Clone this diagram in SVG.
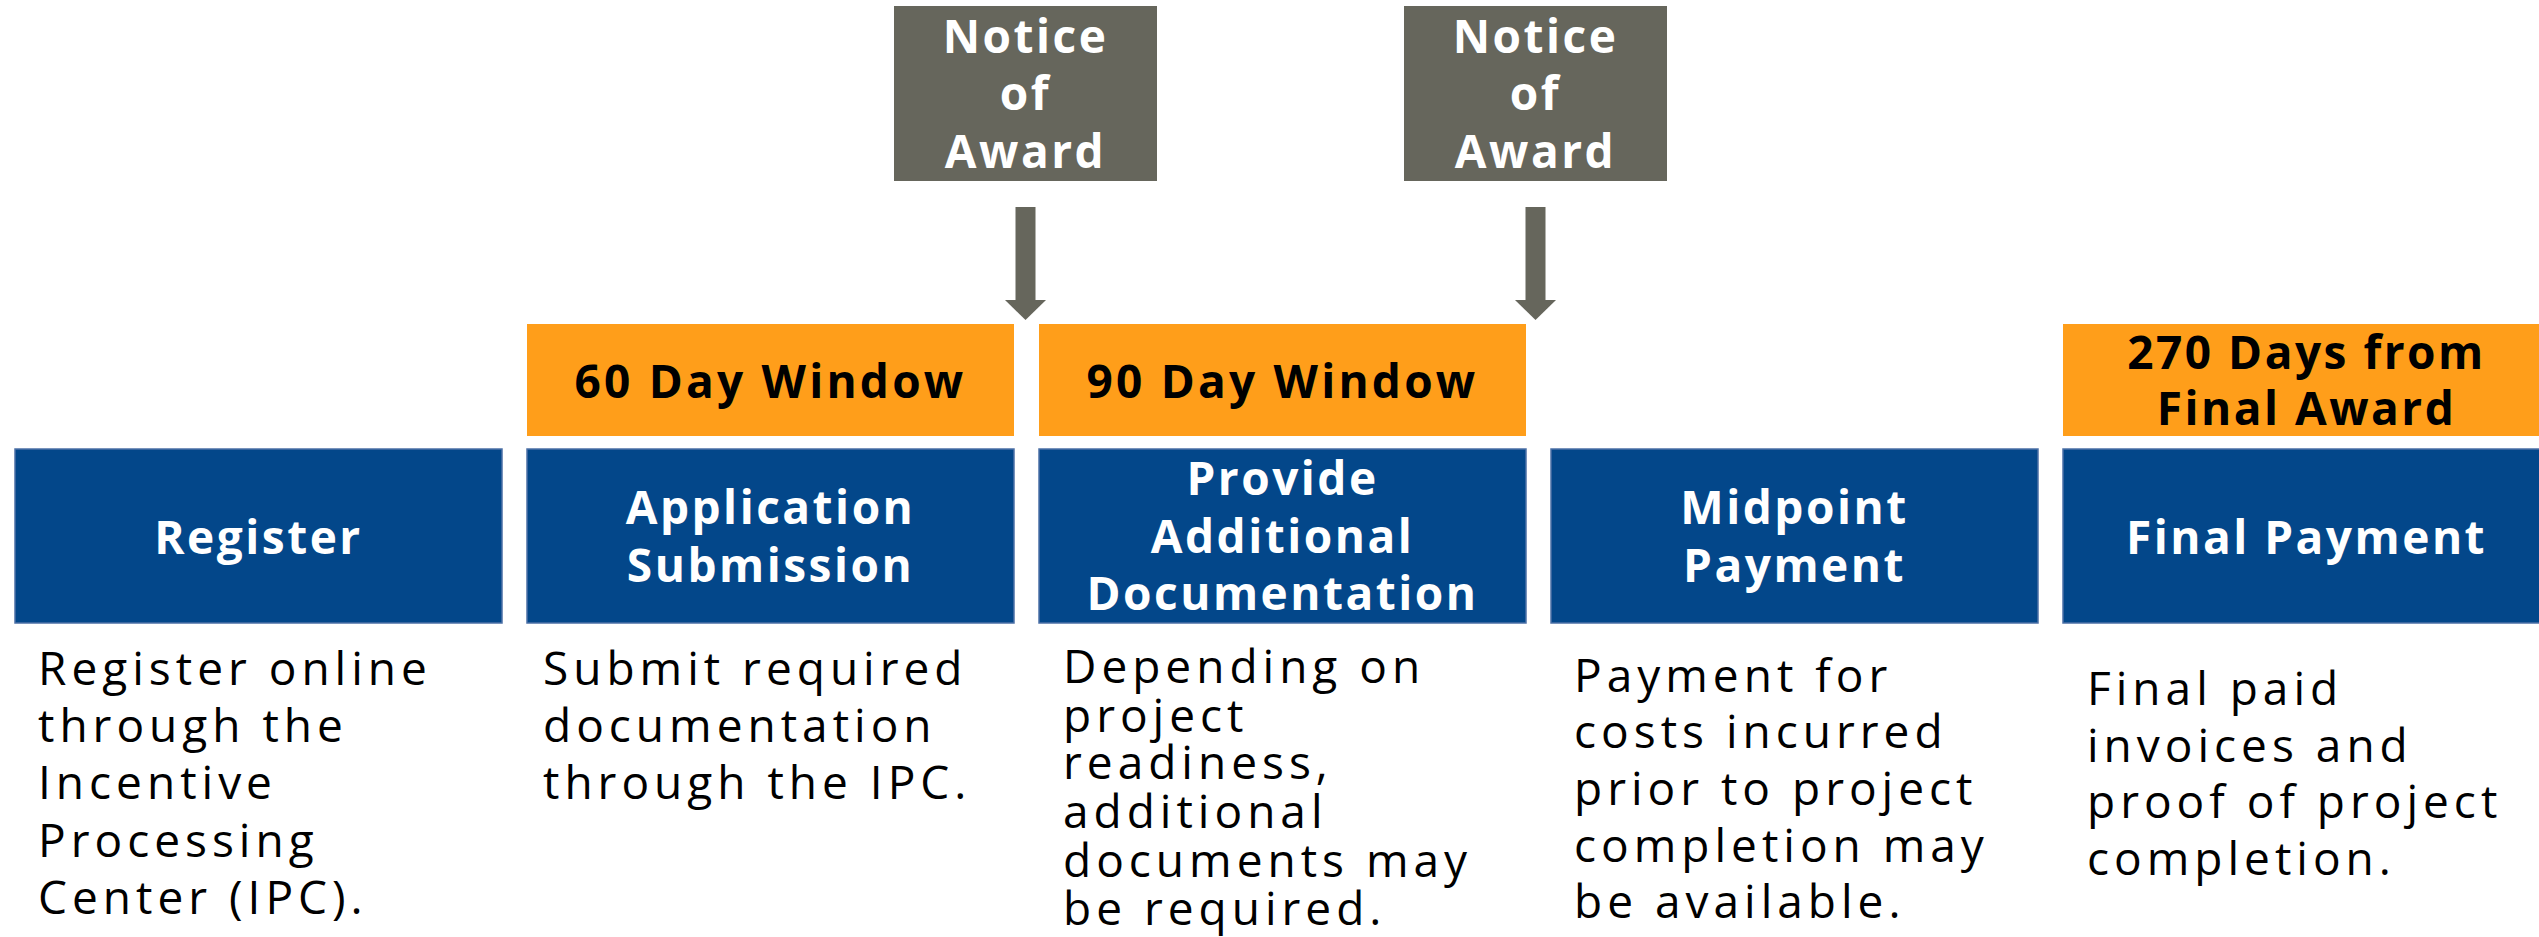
<svg xmlns="http://www.w3.org/2000/svg" width="2539" height="937" viewBox="0 0 2539 937">
<defs>
<style>
.blue{fill:#03478A;stroke:#4C70A6;stroke-width:1.5}
.orange{fill:#FF9E1A}
.gray{fill:#66665C}
.hd{font-family:"Open Sans","Liberation Sans",sans-serif;font-weight:700;font-size:46px;letter-spacing:2.5px;text-anchor:middle}
.win{letter-spacing:3.2px}
.wt{fill:#FFFFFF}
.bk{fill:#000000}
.body{font-family:"Open Sans","Liberation Sans",sans-serif;font-weight:400;font-size:46px;letter-spacing:5px;fill:#000000}
</style>
<marker id="ah" markerUnits="userSpaceOnUse" viewBox="0 0 20 41" refX="0" refY="20.5" markerWidth="20" markerHeight="41" orient="auto">
<path d="M0,0 L20,20.5 L0,41 Z" fill="#66665C"/>
</marker>
</defs>
<rect width="2539" height="937" fill="#FFFFFF"/>

<g id="notice1">
<rect class="gray" x="894" y="6" width="263" height="175"/>
<text class="hd wt" x="1025.5" y="53">Notice</text>
<text class="hd wt" x="1025.5" y="110">of</text>
<text class="hd wt" x="1025.5" y="168">Award</text>
</g>
<g id="notice2">
<rect class="gray" x="1404" y="6" width="263" height="175"/>
<text class="hd wt" x="1535.5" y="53">Notice</text>
<text class="hd wt" x="1535.5" y="110">of</text>
<text class="hd wt" x="1535.5" y="168">Award</text>
</g>

<g id="connectors">
<line x1="1025.5" y1="207" x2="1025.5" y2="300" stroke="#66665C" stroke-width="20" marker-end="url(#ah)"/>
<line x1="1535.5" y1="207" x2="1535.5" y2="300" stroke="#66665C" stroke-width="20" marker-end="url(#ah)"/>
</g>

<g id="window60">
<rect class="orange" x="527" y="324" width="487" height="112"/>
<text class="hd bk win" x="770.5" y="398">60 Day Window</text>
</g>
<g id="window90">
<rect class="orange" x="1039" y="324" width="487" height="112"/>
<text class="hd bk win" x="1282.5" y="398">90 Day Window</text>
</g>
<g id="window270">
<rect class="orange" x="2063" y="324" width="487" height="112"/>
<text class="hd bk" x="2306.5" y="369">270 Days from</text>
<text class="hd bk" x="2306.5" y="425">Final Award</text>
</g>

<g id="register">
<rect class="blue" x="15" y="449" width="487" height="174"/>
<text class="hd wt" x="258.5" y="554">Register</text>
<text class="body" x="38" y="685">Register online</text>
<text class="body" x="38" y="742">through the</text>
<text class="body" x="38" y="799">Incentive</text>
<text class="body" x="38" y="857">Processing</text>
<text class="body" x="38" y="914">Center (IPC).</text>
</g>
<g id="application">
<rect class="blue" x="527" y="449" width="487" height="174"/>
<text class="hd wt" x="770.5" y="524">Application</text>
<text class="hd wt" x="770.5" y="582">Submission</text>
<text class="body" x="543" y="685">Submit required</text>
<text class="body" x="543" y="742">documentation</text>
<text class="body" x="543" y="799">through the IPC.</text>
</g>
<g id="provide">
<rect class="blue" x="1039" y="449" width="487" height="174"/>
<text class="hd wt" x="1282.5" y="495">Provide</text>
<text class="hd wt" x="1282.5" y="553">Additional</text>
<text class="hd wt" x="1282.5" y="610">Documentation</text>
<text class="body" x="1063" y="683">Depending on</text>
<text class="body" x="1063" y="732">project</text>
<text class="body" x="1063" y="779">readiness,</text>
<text class="body" x="1063" y="828">additional</text>
<text class="body" x="1063" y="877">documents may</text>
<text class="body" x="1063" y="925">be required.</text>
</g>
<g id="midpoint">
<rect class="blue" x="1551" y="449" width="487" height="174"/>
<text class="hd wt" x="1794.5" y="524">Midpoint</text>
<text class="hd wt" x="1794.5" y="582">Payment</text>
<text class="body" x="1574" y="692">Payment for</text>
<text class="body" x="1574" y="748">costs incurred</text>
<text class="body" x="1574" y="805">prior to project</text>
<text class="body" x="1574" y="862">completion may</text>
<text class="body" x="1574" y="918">be available.</text>
</g>
<g id="final">
<rect class="blue" x="2063" y="449" width="487" height="174"/>
<text class="hd wt" x="2306.5" y="554">Final Payment</text>
<text class="body" x="2087" y="705">Final paid</text>
<text class="body" x="2087" y="762">invoices and</text>
<text class="body" x="2087" y="818">proof of project</text>
<text class="body" x="2087" y="875">completion.</text>
</g>
</svg>
